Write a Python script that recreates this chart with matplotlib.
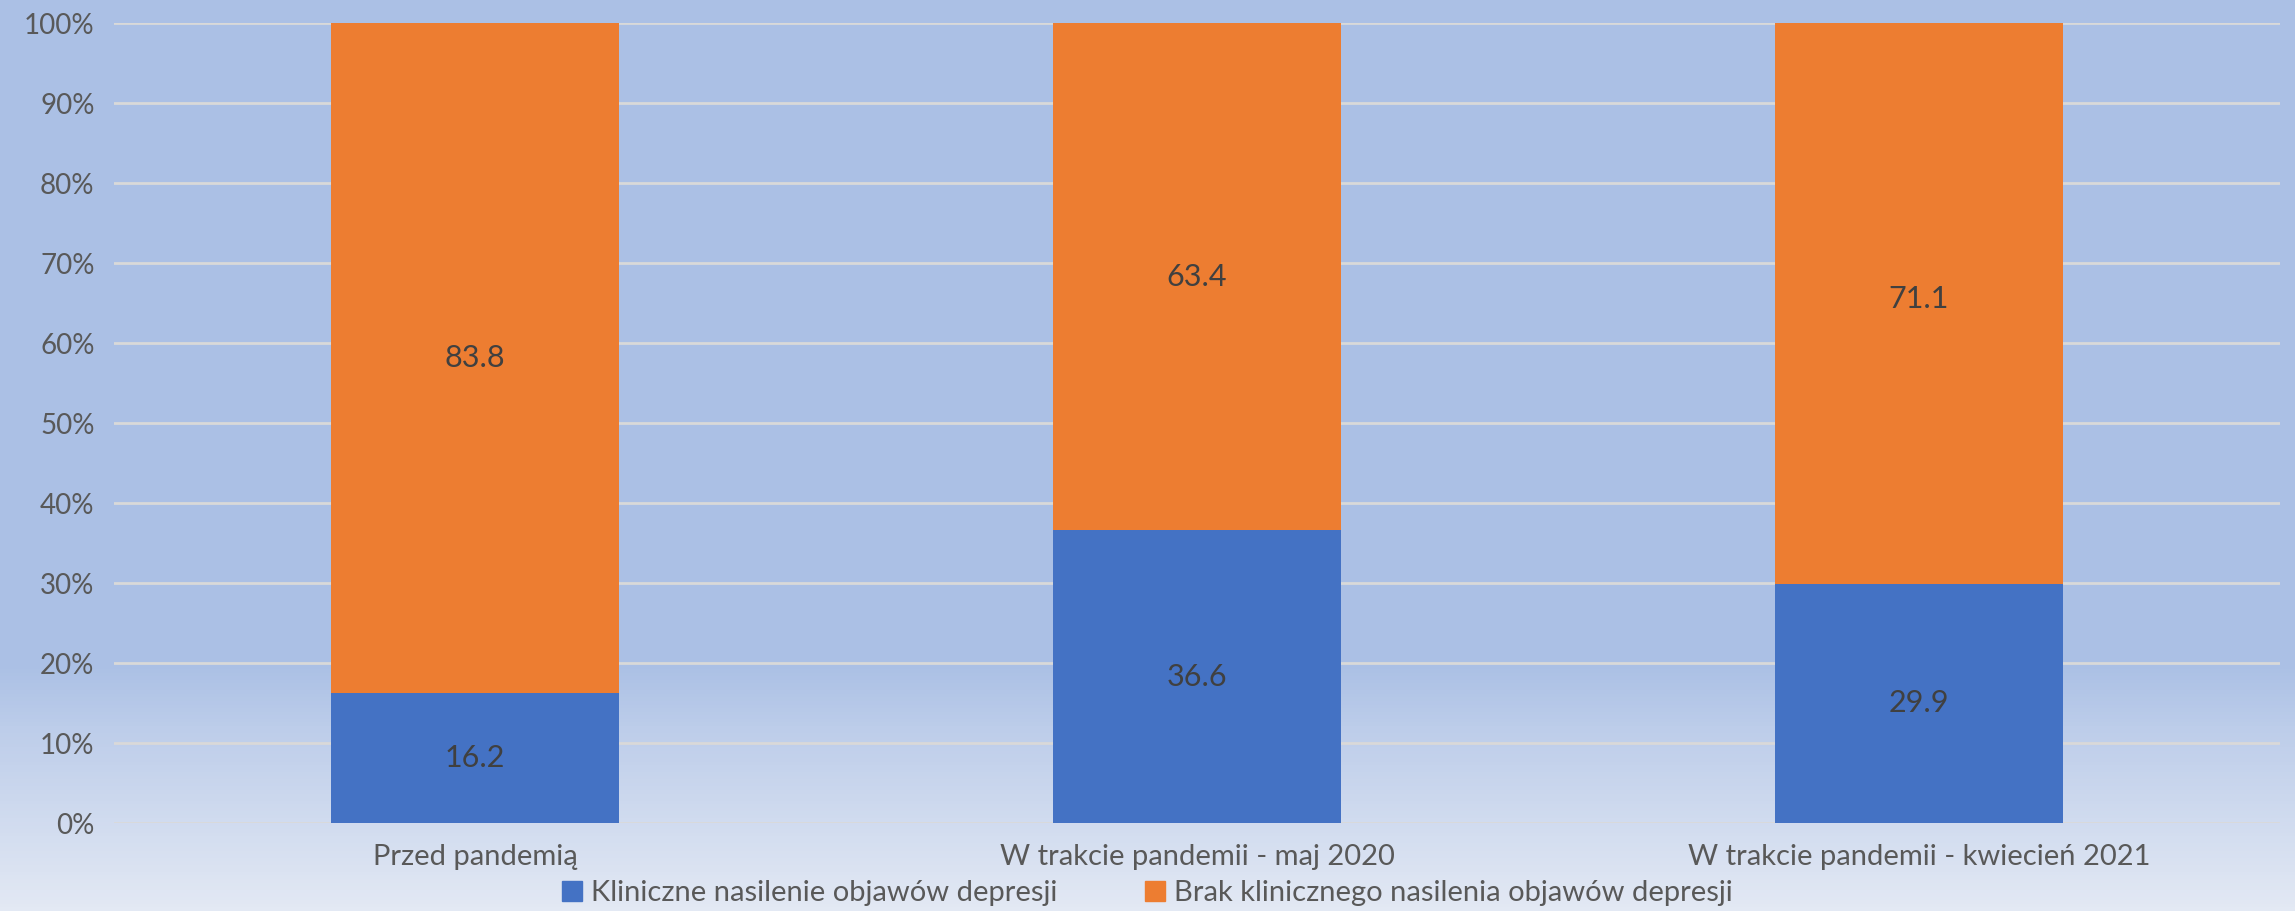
import numpy as np
import matplotlib
matplotlib.use("Agg")
import matplotlib.pyplot as plt
from matplotlib.colors import LinearSegmentedColormap
from matplotlib.patches import Patch

# dane
categories = ["Przed pandemią", "W trakcie pandemii - maj 2020", "W trakcie pandemii - kwiecień 2021"]
kliniczne = [16.2, 36.6, 29.9]
brak = [83.8, 63.4, 71.1]
series_names = ["Kliniczne nasilenie objawów depresji", "Brak klinicznego nasilenia objawów depresji"]

plt.rcParams['font.family'] = ['Lato', 'DejaVu Sans']

fig = plt.figure(figsize=(22.95, 9.11), dpi=100)

# tło z gradientem
bg = fig.add_axes([0, 0, 1, 1], zorder=0)
cmap = LinearSegmentedColormap.from_list("bg", [(0, "#E3E9F4"), (0.2, "#BDCDEA"), (0.27, "#ABC0E5"), (1, "#ABC0E5")])
grad = np.linspace(0, 1, 256).reshape(-1, 1)
bg.imshow(grad, aspect="auto", cmap=cmap, origin="lower", extent=[0, 1, 0, 1])
bg.axis("off")

ax = fig.add_axes([114/2295, 1 - 823/911, (2280 - 114)/2295, 800/911], zorder=1)
ax.patch.set_alpha(0)

x = np.arange(len(categories))
w = 0.4
ax.bar(x, kliniczne, w, color="#4472C4", zorder=3)
ax.bar(x, brak, w, bottom=kliniczne, color="#ED7D31", zorder=3)

for i in range(len(x)):
    ax.text(x[i], kliniczne[i] / 2, f"{kliniczne[i]:.1f}", ha="center", va="center",
            fontsize=22, color="#404040", zorder=4)
    ax.text(x[i], kliniczne[i] + brak[i] / 2, f"{brak[i]:.1f}", ha="center", va="center",
            fontsize=22, color="#404040", zorder=4)

ax.set_xlim(-0.5, 2.5)
ax.set_ylim(0, 100)
ax.set_yticks(np.arange(0, 101, 10))
ax.set_yticklabels([f"{v}%" for v in range(0, 101, 10)])
ax.set_xticks(x)
ax.set_xticklabels(categories)
ax.tick_params(axis="y", length=0, labelsize=20, labelcolor="#595959", pad=14)
ax.tick_params(axis="x", length=0, labelsize=21, labelcolor="#595959", pad=15)
ax.yaxis.grid(True, color="#D9D9D9", linewidth=2, zorder=0)
for s in ax.spines.values():
    s.set_visible(False)

handles = [Patch(color="#4472C4"), Patch(color="#ED7D31")]
fig.legend(handles, series_names, loc="center", bbox_to_anchor=(0.5, 1 - 893/911), ncol=2,
           frameon=False, fontsize=21, labelcolor="#595959", handlelength=0.7, handleheight=0.7,
           handletextpad=0.3, columnspacing=3)

fig.savefig("out.png", dpi=100)
